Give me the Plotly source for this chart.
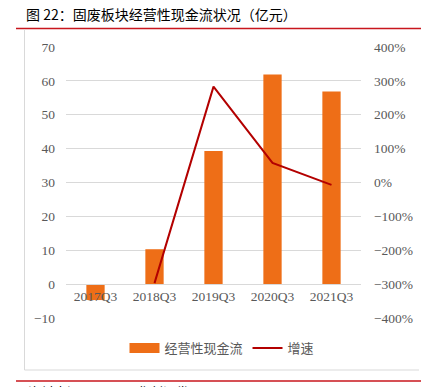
import plotly.graph_objects as go

categories = ["2017Q3", "2018Q3", "2019Q3", "2020Q3", "2021Q3"]
cash_flow = [-4.7, 10.3, 39.3, 61.9, 56.9]
growth = [None, -297, 283, 58, -7]

W, H = 421, 387
L, R, T, B = 66, 361, 47, 318  # plot area in px
pw, ph = R - L, B - T

def px(x):
    return (x - L) / pw

def py(y):
    return (B - y) / ph

tick_font = dict(family="Liberation Serif, Times New Roman, serif", size=13.5, color="#595959")
BAR_COLOR = "#EE6E17"

fig = go.Figure()
fig.add_trace(go.Bar(x=categories, y=cash_flow, name="经营性现金流", showlegend=False,
                     marker=dict(color=BAR_COLOR, line=dict(width=0)), width=0.31))
# legend-only entry with a wide swatch like the reference
fig.add_trace(go.Scatter(x=[None], y=[None], name="经营性现金流", mode="lines",
                         line=dict(color=BAR_COLOR, width=10)))
fig.add_trace(go.Scatter(x=categories, y=growth, name="增速", yaxis="y2", mode="lines",
                         line=dict(color="#B30000", width=2)))

fig.update_layout(
    width=W, height=H,
    margin=dict(l=L, r=W - R, t=T, b=H - B, autoexpand=False),
    paper_bgcolor="white", plot_bgcolor="white",
    showlegend=True,
    legend=dict(orientation="h", x=px(222), y=py(348), xanchor="center", yanchor="middle",
                font=dict(family="Noto Sans CJK SC", size=13, color="#595959"),
                tracegroupgap=0),
    xaxis=dict(anchor="free", position=10 / 80, showline=True, linecolor="#d9d9d9",
               linewidth=1, ticks="", tickfont=tick_font, showgrid=False, zeroline=False,
               automargin=False),
    yaxis=dict(range=[-10, 70], dtick=10, showgrid=True, gridcolor="#d9d9d9", gridwidth=1,
               zeroline=False, tickfont=tick_font, ticks="", ticklabelstandoff=10, automargin=False),
    yaxis2=dict(range=[-400, 400], dtick=100, overlaying="y", side="right", showgrid=False,
                zeroline=False, ticksuffix="%", tickfont=tick_font, ticks="", ticklabelstandoff=12,
                automargin=False),
    bargap=0.69,
)

shapes = [
    dict(type="line", xref="paper", yref="paper", x0=px(16), x1=px(421), y0=py(28.5), y1=py(28.5),
         line=dict(color="#C8161D", width=1.5)),
    dict(type="line", xref="paper", yref="paper", x0=px(16), x1=px(421), y0=py(381), y1=py(381),
         line=dict(color="#C8161D", width=1.5)),
    dict(type="line", xref="paper", yref="paper", x0=px(24.5), x1=px(24.5), y0=py(29.5), y1=py(370),
         line=dict(color="#d9d9d9", width=1)),
    dict(type="line", xref="paper", yref="paper", x0=px(24.5), x1=px(419), y0=py(370), y1=py(370),
         line=dict(color="#d9d9d9", width=1)),
]
fig.update_layout(shapes=shapes)

fig.add_annotation(text="图 22：固废板块经营性现金流状况（亿元）", xref="paper", yref="paper",
                   x=px(24), y=py(14), xanchor="left", yanchor="middle", showarrow=False,
                   font=dict(family="Noto Sans CJK SC", size=14, color="#000000"))
fig.add_annotation(text="资料来源：Wind，华创证券", xref="paper", yref="paper",
                   x=px(26), y=py(380), xanchor="left", yanchor="top", showarrow=False,
                   font=dict(family="Noto Sans CJK SC", size=13, color="#000000"))

fig.write_html("out.html", config={"displayModeBar": False},
               post_script="document.body.style.margin='0';document.body.style.overflow='hidden';")
